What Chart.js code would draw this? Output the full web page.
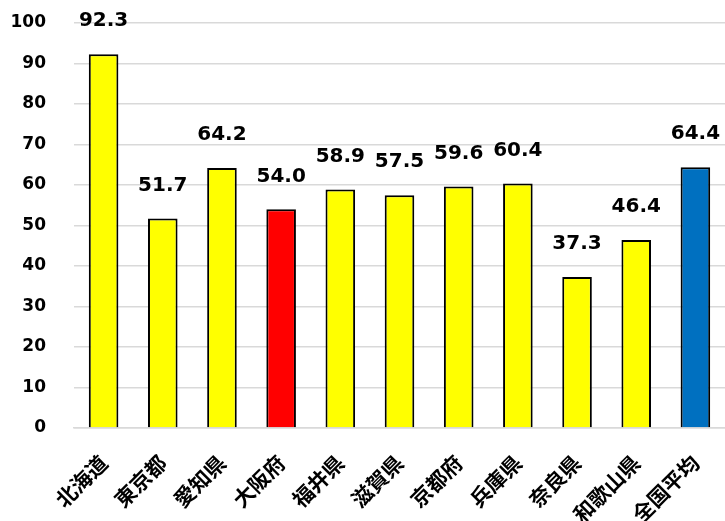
<!DOCTYPE html>
<html>
<head>
<meta charset="utf-8">
<script src="https://cdn.jsdelivr.net/npm/chart.js@4"></script>
<style>
  html, body { margin: 0; padding: 0; background: #fff; }
  #wrap { width: 725px; height: 521px; }
</style>
</head>
<body>
<div id="wrap"><canvas id="myChart"></canvas></div>
<script>
var prefs = ['北海道', '東京都', '愛知県', '大阪府', '福井県', '滋賀県', '京都府', '兵庫県', '奈良県', '和歌山県', '全国平均'];
var values = [92.3, 51.7, 64.2, 54.0, 58.9, 57.5, 59.6, 60.4, 37.3, 46.4, 64.4];
var barColors = ['#FFFF00', '#FFFF00', '#FFFF00', '#FF0000', '#FFFF00', '#FFFF00', '#FFFF00', '#FFFF00', '#FFFF00', '#FFFF00', '#0070C0'];

// value labels drawn above each bar
var valueLabels = {
    id: 'valueLabels',
    afterDatasetsDraw: function (chart) {
        var ctx = chart.ctx;
        var meta = chart.getDatasetMeta(0);
        ctx.save();
        ctx.font = 'bold 20px "DejaVu Sans", Verdana, sans-serif';
        ctx.fillStyle = '#000';
        ctx.textAlign = 'center';
        ctx.textBaseline = 'middle';
        meta.data.forEach(function (bar, i) {
            ctx.fillText(values[i].toFixed(1), bar.x, bar.y - 33);
        });
        ctx.restore();
    }
};

var ctx = document.getElementById('myChart').getContext('2d');
var myChart = new Chart(ctx, {
    type: 'bar',
    data: {
        labels: prefs,
        datasets: [{
            data: values,
            backgroundColor: barColors,
            borderColor: '#000',
            borderWidth: 2,
            barPercentage: 0.5,
            categoryPercentage: 1.0
        }]
    },
    options: {
        responsive: true,
        maintainAspectRatio: false,
        animation: false,
        layout: { padding: { top: 23, right: 0, left: 0, bottom: 0 } },
        plugins: {
            legend: { display: false },
            tooltip: { enabled: false }
        },
        scales: {
            x: {
                grid: { display: false },
                border: { color: '#d9d9d9', width: 1.5 },
                ticks: {
                    color: '#000',
                    minRotation: 45,
                    maxRotation: 45,
                    padding: 14,
                    font: { family: '"Noto Sans CJK JP"', weight: 'bold', size: 21 }
                },
                afterFit: function (scale) {
                    scale.height = 93;
                    scale.paddingLeft = 0;
                    scale.paddingRight = 0;
                }
            },
            y: {
                min: 0,
                max: 100,
                ticks: {
                    stepSize: 10,
                    color: '#000',
                    padding: 28,
                    font: { family: '"DejaVu Sans", Verdana, sans-serif', weight: 'bold', size: 17 }
                },
                grid: { color: '#d9d9d9', lineWidth: 1.5, drawTicks: false },
                border: { display: false },
                afterFit: function (scale) {
                    scale.width = 74;
                    scale.paddingTop = 0;
                    scale.paddingBottom = 0;
                }
            }
        }
    },
    plugins: [valueLabels]
});
</script>
</body>
</html>
